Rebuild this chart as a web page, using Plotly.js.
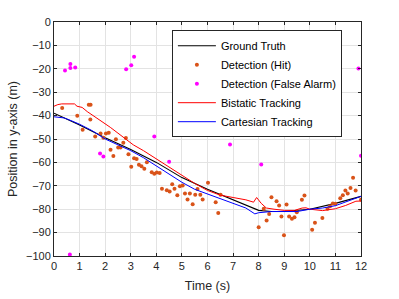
<!DOCTYPE html>
<html><head><meta charset="utf-8">
<script src="https://cdn.plot.ly/plotly-3.0.1.min.js"></script>
<style>html,body{margin:0;padding:0;background:#fff}#plot{width:399px;height:299px}</style>
</head><body><div id="plot"></div>
<script>
// Ground truth
const truthT = [0,1,2,3,4,5,6,7,8,8.5,9,10,11,12];
const truthY = [-39,-44,-49.5,-54.5,-60,-66.5,-71.5,-76,-80.5,-81,-81,-80,-77.5,-74.5];
// Detections (hit)
const hitT = [0.32,0.91,1.12,1.36,1.42,1.43,1.61,1.82,1.93,2.03,2.14,2.21,2.32,2.42,2.51,2.60,2.71,2.81,2.91,3.02,3.13,3.23,3.32,3.42,3.53,3.63,3.82,3.92,4.02,4.13,4.22,4.41,4.52,4.62,4.71,4.82,4.92,5.03,5.12,5.22,5.31,5.42,5.52,5.61,5.72,5.81,6.02,6.32,6.42,6.51,8.0,8.2,8.31,8.41,8.5,8.7,8.8,8.89,8.99,9.09,9.19,9.3,9.4,9.49,9.69,9.79,10.09,10.2,10.49,10.69,10.79,10.9,11.0,11.19,11.29,11.39,11.48,11.59,11.69,11.79,12.0];
const hitY = [-36.7,-40.1,-46.1,-35.4,-41.7,-35.4,-48.9,-47.6,-49.5,-47.6,-47.3,-54.6,-57.3,-50.1,-53.6,-53.6,-51.6,-49.6,-56.5,-61.9,-58.2,-58.5,-61.0,-61.6,-62.7,-59.9,-64.2,-64.9,-64.3,-64.5,-71.3,-71.9,-72.4,-69.3,-71.3,-74.0,-70.2,-69.9,-73.3,-75.9,-73.3,-77.9,-73.8,-71.4,-73.8,-75.9,-68.7,-77.0,-81.6,-73.8,-87.7,-79.8,-84.8,-82.0,-74.9,-76.6,-78.4,-83.1,-91.1,-78.0,-83.1,-84.1,-83.4,-81.3,-76.0,-74.1,-88.8,-85.8,-83.8,-79.8,-78.7,-77.6,-77.7,-75.3,-74.0,-72.0,-73.3,-70.9,-66.6,-72.0,-76.0];
// Detections (false alarm)
const faT = [0.43,0.64,0.64,0.83,0.62,1.8,1.93,2.82,3.02,3.13,3.92,4.5,6.81,6.88,8.1,11.9,12.0];
const faY = [-20.7,-17.9,-19.7,-19.4,-99.4,-56.2,-57.5,-20.2,-18.5,-14.9,-48.9,-59.7,-46.7,-52.4,-60.9,-19.9,-57.2];
// Bistatic tracking
const biT = [0,0.15,0.3,0.5,0.8,0.9,1.1,1.3,1.6,1.9,2.2,2.5,2.8,3.1,3.5,4,4.5,5,5.5,6,6.5,7,7.5,7.8,7.92,8.1,8.3,8.6,9,9.4,9.7,9.85,10,10.5,11,11.4,11.8,12];
const biY = [-36,-35.3,-35,-34.9,-35,-36,-36.5,-38.3,-40.5,-43,-45,-47.5,-50,-52.5,-55,-58.5,-62.3,-65.8,-69,-72,-74,-75,-76,-77,-75,-77.5,-79.5,-80,-80.5,-80.5,-79.5,-79.4,-80,-80.6,-79.8,-78.4,-76.6,-76.5];
// Cartesian tracking
const caT = [0,0.2,0.4,0.7,1,1.5,2,2.5,3,3.5,4,4.5,5,5.5,6,6.5,7,7.5,7.85,8,8.5,9,9.5,10,10.5,11,11.5,12];
const caY = [-40.5,-40.8,-41,-42.3,-43.7,-46.5,-50,-52.5,-55,-58,-61.5,-65,-68.5,-71.5,-73.5,-75.3,-77.3,-79.5,-82,-81.5,-81,-81,-81,-80,-79.5,-78.5,-76.5,-74.5];

const F = 'Liberation Sans, Arial, sans-serif';
const data = [
  {x: truthT, y: truthY, mode: 'lines', name: 'Ground Truth', line: {color: '#000000', width: 1.1}},
  {x: hitT, y: hitY, mode: 'markers', name: 'Detection (Hit)', marker: {color: '#D95319', size: 4}},
  {x: faT, y: faY, mode: 'markers', name: 'Detection (False Alarm)', marker: {color: '#FF00FF', size: 4}},
  {x: biT, y: biY, mode: 'lines', name: 'Bistatic Tracking', line: {color: '#FF0000', width: 1}},
  {x: caT, y: caY, mode: 'lines', name: 'Cartesian Tracking', line: {color: '#0000FF', width: 1}}
];
const ax = {
  showline: true, linecolor: '#262626', linewidth: 1, mirror: 'ticks',
  ticks: 'inside', ticklen: 3, tickcolor: '#262626',
  showgrid: true, gridcolor: '#e3e3e3', zeroline: false,
  tickfont: {family: F, size: 11, color: '#262626'}
};
const layout = {
  width: 399, height: 299,
  margin: {l: 54, r: 38, t: 22, b: 43},
  paper_bgcolor: '#fff', plot_bgcolor: '#fff',
  font: {family: F, color: '#262626'},
  showlegend: true,
  legend: {x: 0.384, y: 0.965, xanchor: 'left', yanchor: 'top',
    bgcolor: '#fff', bordercolor: '#262626', borderwidth: 1,
    font: {family: F, size: 11, color: '#000'}, itemwidth: 38, tracegroupgap: 0},
  xaxis: Object.assign({}, ax, {range: [0, 12], dtick: 1, tick0: 0,
    title: {text: 'Time (s)', font: {family: F, size: 12.5, color: '#262626'}, standoff: 10}}),
  yaxis: Object.assign({}, ax, {range: [-100, 0], dtick: 10, tick0: 0,
    title: {text: 'Position in y-axis (m)', font: {family: F, size: 12.5, color: '#262626'}, standoff: 5}})
};
Plotly.newPlot('plot', data, layout, {displayModeBar: false, staticPlot: true});
</script>
</body></html>
